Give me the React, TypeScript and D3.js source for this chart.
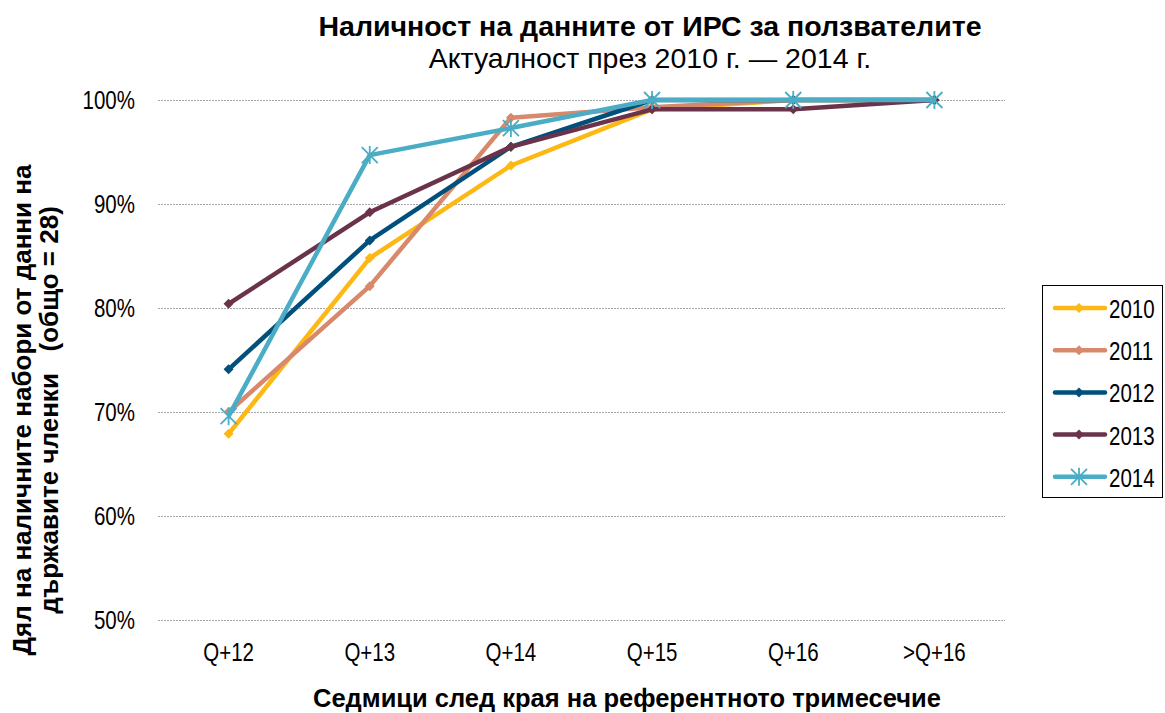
import { useEffect, useRef } from "react";
import { select, scaleLinear, scalePoint, line, range } from "d3";

const categories = ["Q+12", "Q+13", "Q+14", "Q+15", "Q+16", ">Q+16"];
const years = ["2010", "2011", "2012", "2013", "2014"];
const values2010 = [67.9, 84.8, 93.7, 99.1, 100, 100];
const values2011 = [70.0, 82.1, 98.3, 99.3, 100, 100];
const values2012 = [74.1, 86.5, 95.5, 100, 100, 100];
const values2013 = [80.4, 89.2, 95.5, 99.1, 99.1, 100];
const values2014 = [69.6, 94.7, 97.3, 100, 100, 100];
const yTicks = [50, 60, 70, 80, 90, 100];

const colors = ["#FDB813", "#D8896B", "#01507B", "#6B3349", "#4BACC6"];

const W = 1165;
const H = 713;
const plot = { left: 158, right: 1005, top: 100, bottom: 620 };
const FONT = "Liberation Sans, Arial, sans-serif";
// narrow look of the tick / legend labels
const NARROW = 0.82;
const SMALL = 25;

export default function App() {
  const ref = useRef<SVGSVGElement>(null);

  useEffect(() => {
    if (!ref.current) return;
    const svg = select(ref.current);
    svg.selectAll("*").remove();

    const series = [values2010, values2011, values2012, values2013, values2014];

    const x = scalePoint<string>()
      .domain(categories)
      .range([plot.left, plot.right])
      .padding(0.5);
    const y = scaleLinear().domain([50, 100]).range([plot.bottom, plot.top]);

    // narrow text at (tx, ty)
    const narrowText = (g: any, tx: number, ty: number, anchor: string, str: string) =>
      g
        .append("text")
        .attr("transform", `translate(${tx},${ty}) scale(${NARROW},1)`)
        .attr("text-anchor", anchor)
        .attr("font-family", FONT)
        .attr("font-size", SMALL)
        .attr("fill", "#000")
        .text(str);

    // gridlines
    svg
      .append("g")
      .selectAll("line")
      .data(yTicks)
      .enter()
      .append("line")
      .attr("x1", plot.left)
      .attr("x2", plot.right)
      .attr("y1", (d) => y(d) + 0.5)
      .attr("y2", (d) => y(d) + 0.5)
      .attr("stroke", "#a6a6a6")
      .attr("stroke-width", 1)
      .attr("stroke-dasharray", "2,1");

    // y tick labels
    const yg = svg.append("g");
    yTicks.forEach((t) => narrowText(yg, 135, y(t) + 9, "end", t + "%"));

    // x tick labels
    const xg = svg.append("g");
    categories.forEach((c) => narrowText(xg, x(c) as number, 661, "middle", c));

    const lineGen = line<number>()
      .x((_, i) => x(categories[i]) as number)
      .y((d) => y(d));

    const drawMarker = (g: any, cx: number, cy: number, i: number) => {
      if (i === 4) {
        const r = 8;
        g.append("path")
          .attr(
            "d",
            `M${cx - r},${cy - r}L${cx + r},${cy + r}M${cx - r},${cy + r}L${cx + r},${cy - r}M${cx},${cy - r - 1}L${cx},${cy + r + 1}`
          )
          .attr("stroke", colors[i])
          .attr("stroke-width", 1.8)
          .attr("fill", "none");
      } else {
        const r = 5;
        g.append("path")
          .attr("d", `M${cx},${cy - r}L${cx + r},${cy}L${cx},${cy + r}L${cx - r},${cy}Z`)
          .attr("fill", colors[i]);
      }
    };

    // series
    series.forEach((vals, i) => {
      const g = svg.append("g");
      g.append("path")
        .datum(vals)
        .attr("d", lineGen)
        .attr("fill", "none")
        .attr("stroke", colors[i])
        .attr("stroke-width", 4.5)
        .attr("stroke-linejoin", "round");
      vals.forEach((v, j) => drawMarker(g, x(categories[j]) as number, y(v), i));
    });

    // legend
    const lg = svg.append("g");
    lg.append("rect")
      .attr("x", 1042.5)
      .attr("y", 285.5)
      .attr("width", 120)
      .attr("height", 212)
      .attr("fill", "#fff")
      .attr("stroke", "#000")
      .attr("stroke-width", 1);
    range(years.length).forEach((i) => {
      const ly = 308 + i * 42.2;
      lg.append("line")
        .attr("x1", 1055)
        .attr("x2", 1105)
        .attr("y1", ly)
        .attr("y2", ly)
        .attr("stroke", colors[i])
        .attr("stroke-width", 4.5)
        .attr("stroke-linecap", "round");
      drawMarker(lg, 1079, ly, i);
      narrowText(lg, 1109, ly + 10, "start", years[i]);
    });

    // titles
    svg
      .append("text")
      .attr("x", 650)
      .attr("y", 36)
      .attr("text-anchor", "middle")
      .attr("font-family", FONT)
      .attr("font-size", 28.5)
      .attr("font-weight", "bold")
      .text("Наличност на данните от ИРС за ползвателите");
    svg
      .append("text")
      .attr("x", 650)
      .attr("y", 68)
      .attr("text-anchor", "middle")
      .attr("font-family", FONT)
      .attr("font-size", 28.5)
      .text("Актуалност през 2010 г. — 2014 г.");

    svg
      .append("text")
      .attr("x", 627)
      .attr("y", 707)
      .attr("text-anchor", "middle")
      .attr("font-family", FONT)
      .attr("font-size", 25.5)
      .attr("font-weight", "bold")
      .text("Седмици след края на референтното тримесечие");

    const yt = svg
      .append("text")
      .attr("transform", "translate(0, 410) rotate(-90)")
      .attr("text-anchor", "middle")
      .attr("font-family", FONT)
      .attr("font-size", 26)
      .attr("font-weight", "bold");
    yt.append("tspan").attr("x", 0).attr("y", 31).text("Дял на наличните набори от данни на");
    yt.append("tspan")
      .attr("x", 0)
      .attr("y", 58)
      .style("white-space", "pre")
      .text("държавите членки   (общо = 28)");
  }, []);

  return (
    <svg
      width={W}
      height={H}
      ref={ref}
      style={{ position: "absolute", left: 0, top: 0, background: "#fff" }}
    ></svg>
  );
}
